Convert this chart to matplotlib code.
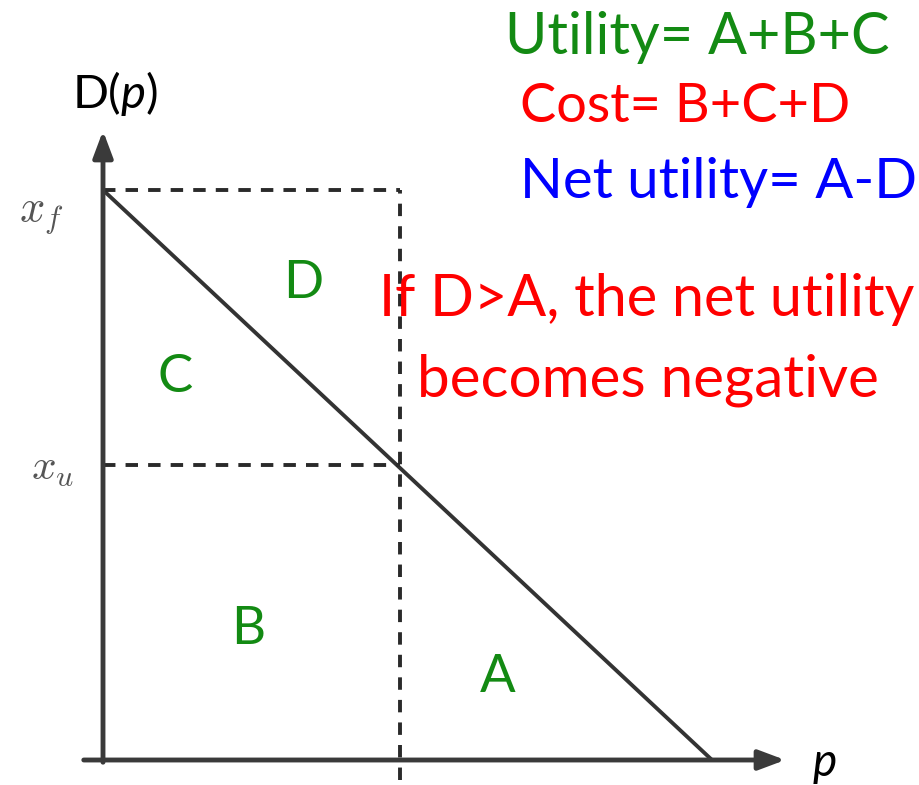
import matplotlib
matplotlib.use("Agg")
import matplotlib.pyplot as plt

# demand line D(p): from (0, x_f) down to (p_max, 0), units ~ pixels
x_f = 570
x_u = 295
p_u = 297
p_max = 609

labels = ["A", "B", "C", "D"]
label_pos = [(395, 82), (145, 130), (72, 382), (200, 476)]

plt.rcParams["mathtext.fontset"] = "custom"
plt.rcParams["mathtext.rm"] = "Lato"
plt.rcParams["mathtext.it"] = "Lato:italic"
fig = plt.figure(figsize=(9.2, 7.85), dpi=100)
ax = fig.add_axes([0, 0, 1, 1])
ax.set_xlim(-103, 817)
ax.set_ylim(-25, 760)
ax.axis("off")

axis_c = "#3a3a3a"
# axes with arrows
ax.annotate("", xy=(685, 0), xytext=(-22, 0),
            arrowprops=dict(arrowstyle="-|>,head_length=1.6,head_width=0.6", color=axis_c, lw=3.5))
ax.annotate("", xy=(0, 632), xytext=(0, -5),
            arrowprops=dict(arrowstyle="-|>,head_length=1.6,head_width=0.6", color=axis_c, lw=3.5))

# demand line
ax.plot([0, p_max], [x_f, 0], color="#333333", lw=2.8, solid_capstyle="round")

# dashed guides
dash = dict(color="#2a2a2a", lw=2.8, linestyle=(0, (3.2, 2.6)))
ax.plot([0, p_u], [x_f, x_f], **dash)
ax.plot([0, p_u], [x_u, x_u], **dash)
ax.plot([p_u, p_u], [-20, x_f], **dash)

font = "Lato"
green = "#138a13"

# axis labels
ax.text(12, 667, "D($\\mathit{p}$)", fontsize=34, family=font, ha="center", va="center")
ax.text(722, -3, "p", fontsize=33, family=font, style="italic", ha="center", va="center")
ax.text(-62, 545, "$x_f$", fontsize=32, color="#555555", math_fontfamily="cm", ha="center", va="center")
ax.text(-50, 292, "$x_u$", fontsize=31, color="#555555", math_fontfamily="cm", ha="center", va="center")

for lab, (x, y) in zip(labels, label_pos):
    ax.text(x, y, lab, fontsize=38, color=green, family=font, ha="center", va="center")

# annotations
ax.text(787, 722, "Utility= A+B+C", fontsize=41.5, color=green, family=font, ha="right", va="center")
ax.text(417, 653, "Cost= B+C+D", fontsize=39, color="#ff0000", family=font, ha="left", va="center")
ax.text(417, 578, "Net utility= A-D", fontsize=40.5, color="#0000ff", family=font, ha="left", va="center")
ax.text(544, 460, "If D>A, the net utility", fontsize=41.5, color="#ff0000", family=font, ha="center", va="center")
ax.text(545, 380, "becomes negative", fontsize=42, color="#ff0000", family=font, ha="center", va="center")

fig.savefig("out.png", dpi=100)
